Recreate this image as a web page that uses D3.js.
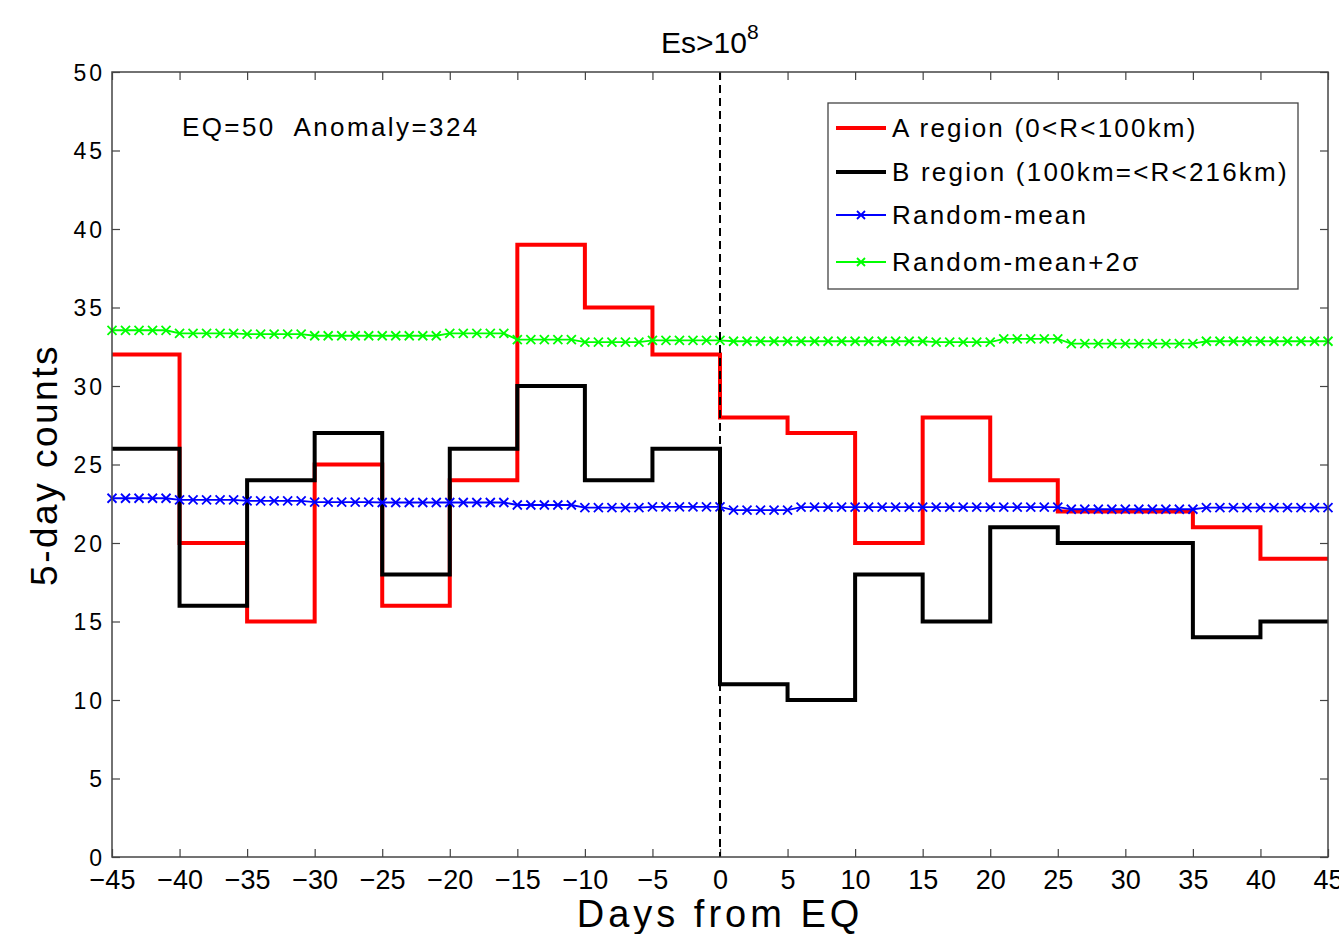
<!DOCTYPE html>
<html>
<head>
<meta charset="utf-8">
<script src="https://cdn.jsdelivr.net/npm/d3@7"></script>
<style>
  body { margin: 0; background: #fff; }
  text { font-family: "Liberation Sans", Arial, sans-serif; fill: #000; }
</style>
</head>
<body>
<div id="chart"></div>
<script>
// step edges (left edge of each 5-day bin) and tick values
const binStarts = [-45, -40, -35, -30, -25, -20, -15, -10, -5, 0, 5, 10, 15, 20, 25, 30, 35, 40];
const xTicks = [-45, -40, -35, -30, -25, -20, -15, -10, -5, 0, 5, 10, 15, 20, 25, 30, 35, 40, 45];
const yTicks = [0, 5, 10, 15, 20, 25, 30, 35, 40, 45, 50];

// 5-day counts
const regionA = [32, 20, 15, 25, 16, 24, 39, 35, 32, 28, 27, 20, 28, 24, 22, 22, 21, 19];
const regionB = [26, 16, 24, 27, 18, 26, 30, 24, 26, 11, 10, 18, 15, 21, 20, 20, 14, 15];

// daily random simulation, days -45 .. 45
const days = d3.range(-45, 46);
const randomMean = [
  22.85, 22.85, 22.85, 22.85, 22.85,
  22.75, 22.75, 22.75, 22.75, 22.75,
  22.68, 22.68, 22.68, 22.68, 22.68,
  22.6, 22.6, 22.6, 22.6, 22.6,
  22.58, 22.58, 22.58, 22.58, 22.58,
  22.58, 22.58, 22.58, 22.58, 22.58,
  22.42, 22.42, 22.42, 22.42, 22.42,
  22.25, 22.25, 22.25, 22.25, 22.25,
  22.3, 22.3, 22.3, 22.3, 22.3,
  22.3,
  22.1, 22.1, 22.1, 22.1, 22.1,
  22.28, 22.28, 22.28, 22.28, 22.28,
  22.28, 22.28, 22.28, 22.28, 22.28,
  22.28, 22.28, 22.28, 22.28, 22.28,
  22.28, 22.28, 22.28, 22.28, 22.28,
  22.15, 22.15, 22.15, 22.15, 22.15,
  22.15, 22.15, 22.15, 22.15, 22.15,
  22.25, 22.25, 22.25, 22.25, 22.25,
  22.25, 22.25, 22.25, 22.25, 22.25
];
const randomMean2s = [
  33.55, 33.55, 33.55, 33.55, 33.55,
  33.35, 33.35, 33.35, 33.35, 33.35,
  33.3, 33.3, 33.3, 33.3, 33.3,
  33.2, 33.2, 33.2, 33.2, 33.2,
  33.2, 33.2, 33.2, 33.2, 33.2,
  33.35, 33.35, 33.35, 33.35, 33.35,
  32.95, 32.95, 32.95, 32.95, 32.95,
  32.8, 32.8, 32.8, 32.8, 32.8,
  32.9, 32.9, 32.9, 32.9, 32.9,
  32.9,
  32.85, 32.85, 32.85, 32.85, 32.85,
  32.85, 32.85, 32.85, 32.85, 32.85,
  32.85, 32.85, 32.85, 32.85, 32.85,
  32.8, 32.8, 32.8, 32.8, 32.8,
  33.0, 33.0, 33.0, 33.0, 33.0,
  32.7, 32.7, 32.7, 32.7, 32.7,
  32.7, 32.7, 32.7, 32.7, 32.7,
  32.85, 32.85, 32.85, 32.85, 32.85,
  32.85, 32.85, 32.85, 32.85, 32.85
];

const legendLabels = ["A region (0<R<100km)", "B region (100km=<R<216km)", "Random-mean", "Random-mean+2\u03c3"];

const W = 1339, H = 934;
const margin = {top: 72, right: 11, bottom: 77, left: 112};
const width = W - margin.left - margin.right;
const height = H - margin.top - margin.bottom;

const svg = d3.select("#chart").append("svg")
    .attr("width", W)
    .attr("height", H);

const g = svg.append("g")
    .attr("transform", "translate(" + margin.left + "," + margin.top + ")");

const x = d3.scaleLinear().domain([-45, 45]).range([0, width]);
const y = d3.scaleLinear().domain([0, 50]).range([height, 0]);

// axes (ticks pointing inward on all four sides)
const axisColor = "#444";
function styleAxis(sel) {
  sel.select(".domain").remove();
  sel.selectAll(".tick line").attr("stroke", axisColor).attr("stroke-width", 1.2);
}
g.append("g")
  .attr("transform", "translate(0," + height + ")")
  .call(d3.axisBottom(x).tickValues(xTicks).tickSize(-8).tickPadding(10).tickFormat(d => d < 0 ? "\u2212" + (-d) : d))
  .call(styleAxis)
  .call(s => s.selectAll(".tick text")
      .attr("font-size", 27).attr("font-family", "Liberation Sans, Arial, sans-serif")
      .attr("fill", "#000").attr("dy", "0.8em"));
g.append("g")
  .call(d3.axisTop(x).tickValues(xTicks).tickSize(-8).tickFormat(""))
  .call(styleAxis);
g.append("g")
  .call(d3.axisLeft(y).tickValues(yTicks).tickSize(-8).tickPadding(7))
  .call(styleAxis)
  .call(s => s.selectAll(".tick text")
      .attr("font-size", 23).attr("font-family", "Liberation Sans, Arial, sans-serif")
      .attr("letter-spacing", 3).attr("fill", "#000").attr("dy", "0.35em"));
g.append("g")
  .attr("transform", "translate(" + width + ",0)")
  .call(d3.axisRight(y).tickValues(yTicks).tickSize(-8).tickFormat(""))
  .call(styleAxis);

// step lines
const step = d3.line()
    .x(d => x(d[0]))
    .y(d => y(d[1]))
    .curve(d3.curveStepAfter);
function stepPoints(vals) {
  const pts = binStarts.map((b, i) => [b, vals[i]]);
  pts.push([45, vals[vals.length - 1]]);
  return pts;
}
g.append("path")
  .attr("d", step(stepPoints(regionA)))
  .attr("fill", "none").attr("stroke", "#ff0000").attr("stroke-width", 4);
g.append("path")
  .attr("d", step(stepPoints(regionB)))
  .attr("fill", "none").attr("stroke", "#000").attr("stroke-width", 4);

// random lines with x markers
const line = d3.line().x(d => x(d[0])).y(d => y(d[1]));
function drawRandom(vals, color) {
  const pts = days.map((d, i) => [d, vals[i]]);
  g.append("path")
    .attr("d", line(pts))
    .attr("fill", "none").attr("stroke", color).attr("stroke-width", 1.8);
  const m = 4.5;
  g.append("g").selectAll("path")
    .data(pts)
    .join("path")
    .attr("d", d => {
      const cx = x(d[0]), cy = y(d[1]);
      return "M" + (cx - m) + "," + (cy - m) + "L" + (cx + m) + "," + (cy + m) +
             "M" + (cx - m) + "," + (cy + m) + "L" + (cx + m) + "," + (cy - m);
    })
    .attr("stroke", color).attr("stroke-width", 1.8);
}
drawRandom(randomMean, "#0000ff");
drawRandom(randomMean2s, "#00ff00");

// dashed line at EQ day
g.append("line")
  .attr("x1", x(0)).attr("x2", x(0))
  .attr("y1", 0).attr("y2", height)
  .attr("stroke", "#000").attr("stroke-width", 2)
  .attr("stroke-dasharray", "8,5");

// frame
g.append("rect")
  .attr("width", width).attr("height", height)
  .attr("fill", "none").attr("stroke", axisColor).attr("stroke-width", 1.5);

// annotation
g.append("text")
  .attr("x", 70)
  .attr("y", 64)
  .attr("font-size", 26)
  .attr("letter-spacing", 2.4)
  .attr("xml:space", "preserve")
  .text("EQ=50  Anomaly=324");

// legend
const lg = svg.append("g").attr("transform", "translate(828,103)");
lg.append("rect")
  .attr("width", 470).attr("height", 186)
  .attr("fill", "#fff").attr("stroke", axisColor).attr("stroke-width", 1.3);
const legColors = ["#ff0000", "#000", "#0000ff", "#00ff00"];
const legY = [25, 69, 112, 159];
legendLabels.forEach((lab, i) => {
  const row = lg.append("g").attr("transform", "translate(0," + legY[i] + ")");
  row.append("line")
    .attr("x1", 8).attr("x2", 58)
    .attr("stroke", legColors[i]).attr("stroke-width", i < 2 ? 4 : 1.8);
  if (i >= 2) {
    const m = 4;
    row.append("path")
      .attr("d", "M" + (33 - m) + "," + (-m) + "L" + (33 + m) + "," + m + "M" + (33 - m) + "," + m + "L" + (33 + m) + "," + (-m))
      .attr("stroke", legColors[i]).attr("stroke-width", 1.8);
  }
  row.append("text")
    .attr("x", 64).attr("y", 0).attr("dy", "0.36em")
    .attr("font-size", 26).attr("letter-spacing", 2.2)
    .text(lab);
});

// title
const title = svg.append("text")
  .attr("x", 661).attr("y", 53)
  .attr("font-size", 30);
title.append("tspan").text("Es>10");
title.append("tspan").attr("dy", -14).attr("font-size", 21).text("8");

// axis labels
svg.append("text")
  .attr("x", margin.left + x(0)).attr("y", 927)
  .attr("text-anchor", "middle")
  .attr("font-size", 38).attr("letter-spacing", 4)
  .text("Days from EQ");
svg.append("text")
  .attr("transform", "translate(57,465) rotate(-90)")
  .attr("text-anchor", "middle")
  .attr("font-size", 37).attr("letter-spacing", 2.5)
  .text("5-day counts");
</script>
</body>
</html>
